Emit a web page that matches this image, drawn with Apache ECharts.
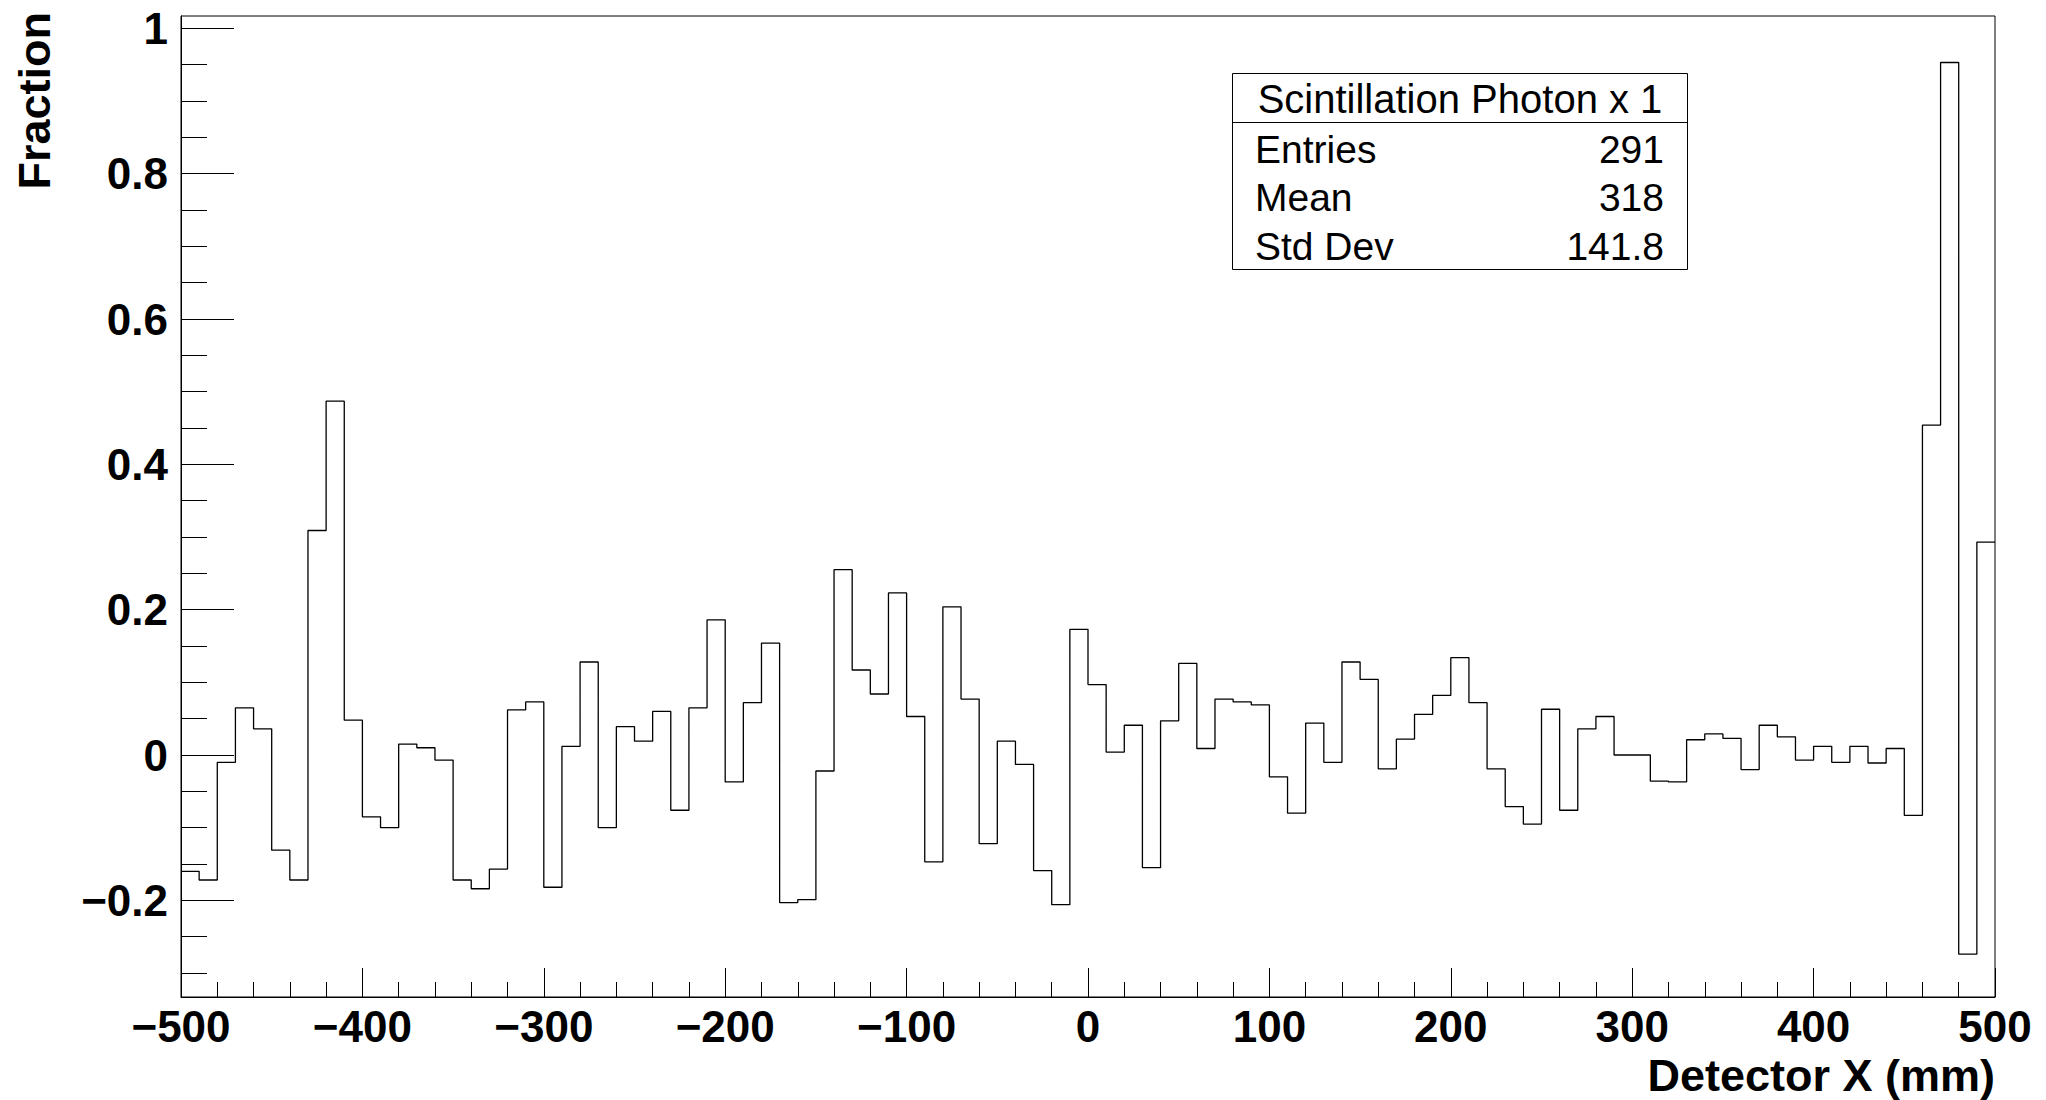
<!DOCTYPE html>
<html>
<head>
<meta charset="utf-8">
<script src="https://cdn.jsdelivr.net/npm/echarts@6/dist/echarts.min.js"></script>
<style>
html,body{margin:0;padding:0;background:#fff;}
#chart{width:2046px;height:1100px;}
</style>
</head>
<body>
<div id="chart"></div>
<script>
// ---- data ----
const xMin = -500;
const xMax = 500;
const binWidth = 10;
const fractions = [
  -0.160, -0.172, -0.010, 0.065, 0.036, -0.131, -0.172, 0.309, 0.487, 0.048,
  -0.085, -0.100, 0.015, 0.010, -0.007, -0.172, -0.184, -0.157, 0.062, 0.073,
  -0.182, 0.012, 0.128, -0.100, 0.039, 0.019, 0.060, -0.076, 0.065, 0.186,
  -0.037, 0.072, 0.154, -0.203, -0.199, -0.022, 0.255, 0.117, 0.084, 0.223,
  0.053, -0.147, 0.204, 0.077, -0.122, 0.019, -0.013, -0.159, -0.206, 0.173,
  0.097, 0.004, 0.041, -0.155, 0.047, 0.126, 0.009, 0.077, 0.073, 0.069,
  -0.030, -0.080, 0.044, -0.010, 0.128, 0.104, -0.019, 0.022, 0.056, 0.082,
  0.134, 0.072, -0.019, -0.071, -0.095, 0.063, -0.076, 0.036, 0.053, 0.000,
  0.000, -0.036, -0.037, 0.021, 0.029, 0.023, -0.020, 0.041, 0.025, -0.007,
  0.012, -0.010, 0.012, -0.011, 0.009, -0.083, 0.454, 0.953, -0.274, 0.293
];
const yMin = -0.333;
const yMax = 1.017;
const yMajorTicks = [-0.2, 0, 0.2, 0.4, 0.6, 0.8, 1];
const yMinorTicks = [-0.3, -0.25, -0.15, -0.1, -0.05, 0.05, 0.1, 0.15, 0.25, 0.3, 0.35,
  0.45, 0.5, 0.55, 0.65, 0.7, 0.75, 0.85, 0.9, 0.95];
const xTickInterval = 100;
const xMinorSplit = 5;
const xTitle = 'Detector X (mm)';
const yTitle = 'Fraction';
const statsTitle = 'Scintillation Photon x 1';
const statsLabels = ['Entries', 'Mean', 'Std Dev'];
const statsValues = ['291', '318', '141.8'];

// ---- build ----
const stepData = fractions.map((v, i) => [xMin + i * binWidth, v]);
stepData.push([xMax, fractions[fractions.length - 1]]);

const FONT = '"Liberation Sans", Arial, Helvetica, sans-serif';
const fmt = v => String(v).replace('-', '\u2212');

const statsRowY = [149, 197, 246];
const graphics = [
  {type: 'text', x: 34, y: 12, rotation: Math.PI / 2,
   style: {text: yTitle, fontFamily: FONT, fontWeight: 'bold', fontSize: 45, fill: '#000',
           align: 'right', verticalAlign: 'middle'}},
  {type: 'text', x: 1995, y: 1075,
   style: {text: xTitle, fontFamily: FONT, fontWeight: 'bold', fontSize: 45, fill: '#000',
           align: 'right', verticalAlign: 'middle'}},
  {type: 'rect', shape: {x: 1232.5, y: 73.5, width: 455, height: 196},
   style: {fill: '#fff', stroke: '#000', lineWidth: 1}},
  {type: 'line', shape: {x1: 1232.5, y1: 122.5, x2: 1687.5, y2: 122.5},
   style: {stroke: '#000', lineWidth: 1}},
  {type: 'text', x: 1460, y: 99,
   style: {text: statsTitle, fontFamily: FONT, fontSize: 40, fill: '#000',
           align: 'center', verticalAlign: 'middle'}}
];
statsLabels.forEach((lab, i) => {
  graphics.push({type: 'text', x: 1255, y: statsRowY[i],
    style: {text: lab, fontFamily: FONT, fontSize: 39, fill: '#000', align: 'left', verticalAlign: 'middle'}});
  graphics.push({type: 'text', x: 1664, y: statsRowY[i],
    style: {text: statsValues[i], fontFamily: FONT, fontSize: 39, fill: '#000', align: 'right', verticalAlign: 'middle'}});
});

const chart = echarts.init(document.getElementById('chart'), null, {renderer: 'svg'});
chart.setOption({
  animation: false,
  backgroundColor: '#fff',
  grid: {left: 181, right: 51, top: 16, bottom: 103, show: true, borderColor: '#000', borderWidth: 1,
         backgroundColor: 'transparent', containLabel: false, outerBoundsMode: 'none'},
  xAxis: {
    type: 'value', min: xMin, max: xMax, interval: xTickInterval, position: 'bottom',
    axisLine: {show: true, onZero: false, lineStyle: {color: '#000', width: 1}},
    axisTick: {show: true, inside: true, length: 29, lineStyle: {color: '#000', width: 1}},
    minorTick: {show: true, splitNumber: xMinorSplit, length: 15, lineStyle: {color: '#000', width: 1}},
    splitLine: {show: false},
    axisLabel: {show: true, margin: 7, fontFamily: FONT, fontWeight: 'bold', fontSize: 44, color: '#000',
                lineHeight: 44, formatter: fmt, showMinLabel: true, showMaxLabel: true}
  },
  yAxis: [
    {
      type: 'value', min: yMin, max: yMax, position: 'left',
      axisLine: {show: true, onZero: false, lineStyle: {color: '#000', width: 1}},
      axisTick: {show: true, inside: true, length: 53, customValues: yMajorTicks,
                 lineStyle: {color: '#000', width: 1}},
      splitLine: {show: false},
      axisLabel: {show: true, margin: 13, customValues: yMajorTicks, fontFamily: FONT, fontWeight: 'bold',
                  fontSize: 44, color: '#000', formatter: fmt}
    },
    {
      type: 'value', min: yMin, max: yMax, position: 'left',
      axisLine: {show: false, onZero: false},
      axisTick: {show: true, inside: true, length: 26, customValues: yMinorTicks,
                 lineStyle: {color: '#000', width: 1}},
      splitLine: {show: false},
      axisLabel: {show: false}
    }
  ],
  series: [{
    type: 'line', name: statsTitle, xAxisIndex: 0, yAxisIndex: 0,
    step: 'end', symbol: 'none', data: stepData,
    lineStyle: {color: '#000', width: 1.3}
  }],
  graphic: graphics
});
</script>
</body>
</html>
